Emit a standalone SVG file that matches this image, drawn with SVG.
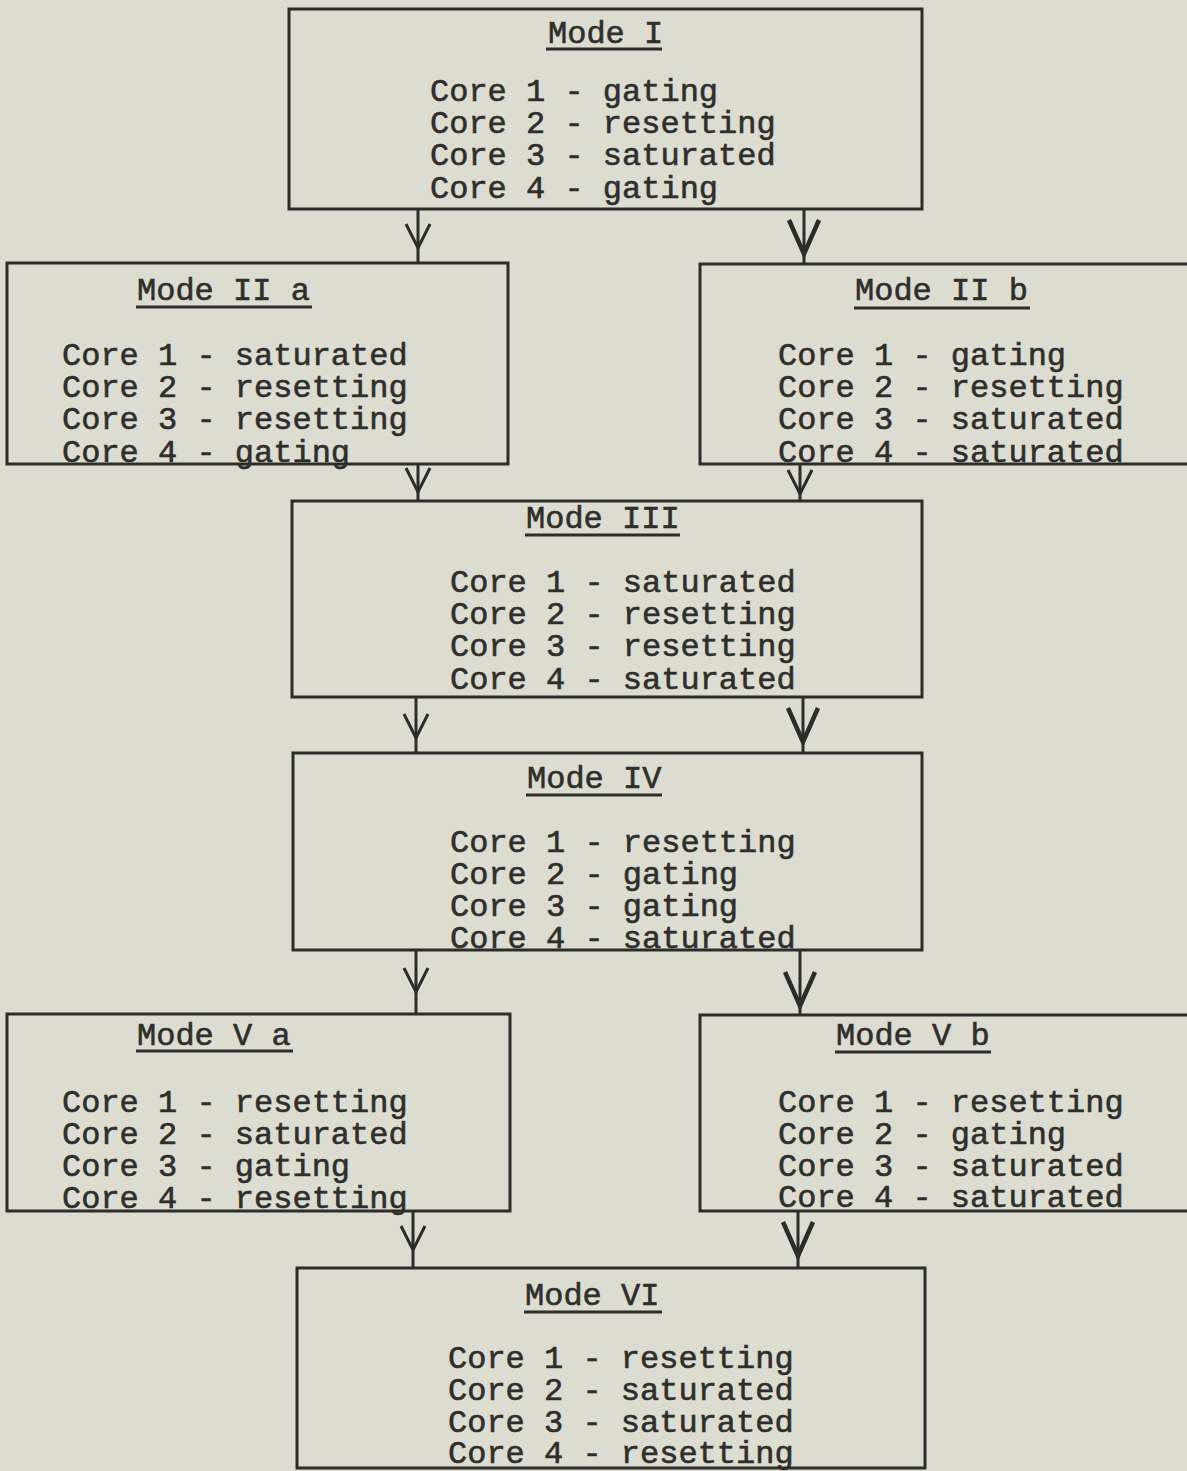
<svg xmlns="http://www.w3.org/2000/svg" xmlns:xlink="http://www.w3.org/1999/xlink" width="1187" height="1471" viewBox="0 0 1187 1471">
<style>
.box{fill:none;stroke:#2c2c2a;stroke-width:3}
.t{font-family:"Liberation Mono","Courier New",monospace;font-size:32px;fill:#2e2e2c;stroke:#2e2e2c;stroke-width:0.6}
.ul{stroke:#2c2c2a;stroke-width:3}
.st{stroke:#2c2c2a;stroke-width:3;fill:none}
.hd{stroke:#2c2c2a;stroke-width:3;fill:none}
.hd2{stroke:#2c2c2a;stroke-width:4.5;fill:none}
</style>
<defs>
<path id="v" d="M-12,-24 L0,0 L12,-24"/>
<path id="vb" d="M-15,-34 L0,0 L15,-34"/>
</defs>
<rect width="1187" height="1471" fill="#dcdcd0"/>
<g id="connectors">
<line class="st" x1="418" y1="209" x2="418" y2="263"/>
<use xlink:href="#v" class="hd" x="418" y="248"/>
<line class="st" x1="804" y1="209" x2="804" y2="264"/>
<use xlink:href="#vb" class="hd2" x="804" y="254"/>
<line class="st" x1="418" y1="464" x2="418" y2="501"/>
<use xlink:href="#v" class="hd" x="418" y="492"/>
<line class="st" x1="800" y1="464" x2="800" y2="501"/>
<use xlink:href="#v" class="hd" x="800" y="494"/>
<line class="st" x1="416" y1="697" x2="416" y2="753"/>
<use xlink:href="#v" class="hd" x="416" y="738"/>
<line class="st" x1="803" y1="697" x2="803" y2="753"/>
<use xlink:href="#vb" class="hd2" x="803" y="742"/>
<line class="st" x1="416" y1="950" x2="416" y2="1014"/>
<use xlink:href="#v" class="hd" x="416" y="992"/>
<line class="st" x1="800" y1="950" x2="800" y2="1015"/>
<use xlink:href="#vb" class="hd2" x="800" y="1006"/>
<line class="st" x1="413" y1="1211" x2="413" y2="1268"/>
<use xlink:href="#v" class="hd" x="413" y="1250"/>
<line class="st" x1="798" y1="1211" x2="798" y2="1268"/>
<use xlink:href="#vb" class="hd2" x="798" y="1256"/>
</g>
<g id="mode1">
<rect class="box" x="289" y="9" width="633" height="200"/>
<text class="t" x="548" y="43">Mode I</text>
<line class="ul" x1="546" y1="49" x2="662" y2="49"/>
<text class="t" x="430" y="101">Core 1 - gating</text>
<text class="t" x="430" y="133">Core 2 - resetting</text>
<text class="t" x="430" y="165">Core 3 - saturated</text>
<text class="t" x="430" y="198">Core 4 - gating</text>
</g>
<g id="mode2a">
<rect class="box" x="7" y="263" width="501" height="201"/>
<text class="t" x="137" y="300">Mode II a</text>
<line class="ul" x1="136" y1="307" x2="312" y2="307"/>
<text class="t" x="62" y="365">Core 1 - saturated</text>
<text class="t" x="62" y="397">Core 2 - resetting</text>
<text class="t" x="62" y="429">Core 3 - resetting</text>
<text class="t" x="62" y="462">Core 4 - gating</text>
</g>
<g id="mode2b">
<rect class="box" x="700" y="264" width="500" height="200"/>
<text class="t" x="855" y="300">Mode II b</text>
<line class="ul" x1="854" y1="308" x2="1030" y2="308"/>
<text class="t" x="778" y="365">Core 1 - gating</text>
<text class="t" x="778" y="397">Core 2 - resetting</text>
<text class="t" x="778" y="429">Core 3 - saturated</text>
<text class="t" x="778" y="462">Core 4 - saturated</text>
</g>
<g id="mode3">
<rect class="box" x="292" y="501" width="630" height="196"/>
<text class="t" x="526" y="528">Mode III</text>
<line class="ul" x1="525" y1="535" x2="680" y2="535"/>
<text class="t" x="450" y="592">Core 1 - saturated</text>
<text class="t" x="450" y="624">Core 2 - resetting</text>
<text class="t" x="450" y="656">Core 3 - resetting</text>
<text class="t" x="450" y="689">Core 4 - saturated</text>
</g>
<g id="mode4">
<rect class="box" x="293" y="753" width="629" height="197"/>
<text class="t" x="527" y="788">Mode IV</text>
<line class="ul" x1="526" y1="795" x2="662" y2="795"/>
<text class="t" x="450" y="852">Core 1 - resetting</text>
<text class="t" x="450" y="884">Core 2 - gating</text>
<text class="t" x="450" y="916">Core 3 - gating</text>
<text class="t" x="450" y="948">Core 4 - saturated</text>
</g>
<g id="mode5a">
<rect class="box" x="7" y="1014" width="503" height="197"/>
<text class="t" x="137" y="1045">Mode V a</text>
<line class="ul" x1="136" y1="1051" x2="293" y2="1051"/>
<text class="t" x="62" y="1112">Core 1 - resetting</text>
<text class="t" x="62" y="1144">Core 2 - saturated</text>
<text class="t" x="62" y="1176">Core 3 - gating</text>
<text class="t" x="62" y="1208">Core 4 - resetting</text>
</g>
<g id="mode5b">
<rect class="box" x="700" y="1015" width="500" height="196"/>
<text class="t" x="836" y="1045">Mode V b</text>
<line class="ul" x1="835" y1="1052" x2="991" y2="1052"/>
<text class="t" x="778" y="1112">Core 1 - resetting</text>
<text class="t" x="778" y="1144">Core 2 - gating</text>
<text class="t" x="778" y="1176">Core 3 - saturated</text>
<text class="t" x="778" y="1207">Core 4 - saturated</text>
</g>
<g id="mode6">
<rect class="box" x="297" y="1268" width="628" height="200"/>
<text class="t" x="525" y="1305">Mode VI</text>
<line class="ul" x1="524" y1="1312" x2="662" y2="1312"/>
<text class="t" x="448" y="1368">Core 1 - resetting</text>
<text class="t" x="448" y="1400">Core 2 - saturated</text>
<text class="t" x="448" y="1432">Core 3 - saturated</text>
<text class="t" x="448" y="1463">Core 4 - resetting</text>
</g>
</svg>
